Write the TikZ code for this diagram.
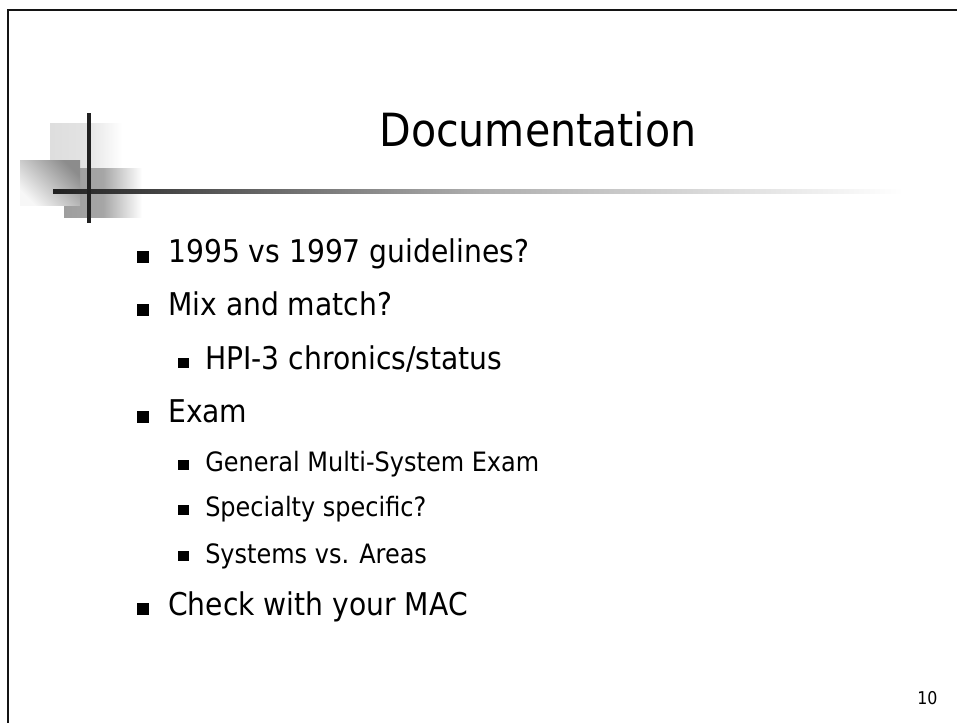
\documentclass[tikz,border=0pt]{standalone}
\usepackage{fontspec}
\setmainfont{DejaVu Sans Condensed}
\usetikzlibrary{positioning, calc}

\begin{document}
\begin{tikzpicture}[
    x=0.75pt, y=-0.75pt,
    % Styles
    title/.style={
        anchor=base,
        inner sep=0pt,
        font=\fontsize{34.3}{40}\selectfont
    },
    item/.style={
        anchor=base west,
        inner sep=0pt,
        font=\fontsize{23.5}{28}\selectfont
    },
    subitem/.style={
        anchor=base west,
        inner sep=0pt,
        font=\fontsize{20}{24}\selectfont
    },
    bigsubitem/.style={
        subitem,
        font=\fontsize{23.5}{28}\selectfont
    },
    bullet/.style={
        rectangle,
        fill=black,
        inner sep=0pt,
        minimum size=9pt,
        anchor=south east
    },
    subbullet/.style={
        bullet,
        minimum size=7.8pt
    },
    frameline/.style={
        draw=black!92,
        line width=2pt
    },
    crossline/.style={
        fill=black!87
    }
]

    % Page
    \useasboundingbox (0,0) rectangle (957,723);
    \fill[white] (0,0) rectangle (957,723);
    \draw[frameline] (8,10) rectangle (1000,780);

    % Decoration
    \shade[left color=black!13, right color=white, middle color=black!11] (50,124) rectangle (122,190);
    \shade[left color=black!38, right color=white, middle color=black!35] (64,169) rectangle (142,218);
    \shade[top color=black!45, bottom color=black!3, shading angle=-45] (20,161) rectangle (80,206);
    \shade[left color=black!87, right color=white, middle color=black!32] (53,190) rectangle (903,194);
    \fill[crossline] (87,113) rectangle (91,223);

    % Title
    \node[title] (title) at (538,147) {Documentation};

    % Items
    \node[item] (guide) at (168,263) {1995 vs 1997 guidelines?};
    \node[item] (mix) at (168,316) {Mix and match?};
    \node[bigsubitem] (hpi) at (205,370) {HPI-3 chronics/status};
    \node[item] (exam) at (168,423) {Exam};
    \node[subitem] (general) at (205,472) {General Multi-System Exam};
    \node[subitem] (special) at (205,517) {Specialty specific?};
    \node[subitem] (areas) at (205,563) {Systems vs. Areas};
    \node[item] (mac) at (168,615) {Check with your MAC};

    % Bullets
    \foreach \t in {guide, mix, exam, mac}
        \node[bullet] at ([xshift=-14.2pt]\t.base west) {};
    \foreach \t in {hpi, general, special, areas}
        \node[subbullet] at ([xshift=-12pt, yshift=1pt]\t.base west) {};

    % Page number
    \node[anchor=base west, inner sep=0pt, font=\fontsize{13.2}{16}\selectfont] (pagenum) at (917,704) {10};
\end{tikzpicture}
\end{document}
